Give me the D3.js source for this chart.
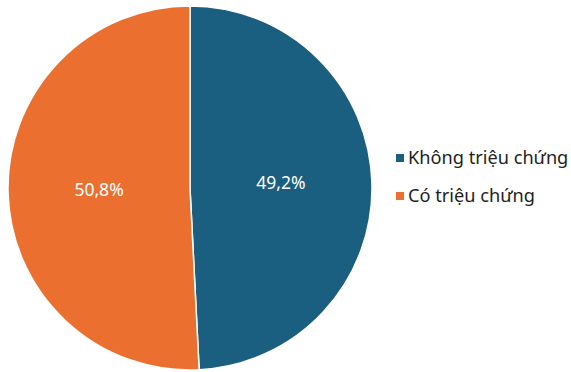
<!DOCTYPE html>
<html>
<head>
<meta charset="utf-8">
<script src="https://cdn.jsdelivr.net/npm/d3@7"></script>
<style>
  body { margin: 0; background: #fff; }
  text { font-family: "Noto Sans", "Open Sans", sans-serif; }
</style>
</head>
<body>
<div id="content"></div>
<script>
const categories = ["Không triệu chứng", "Có triệu chứng"];
const values = [49.2, 50.8];
const labels = ["49,2%", "50,8%"];
const colors = ["#1b5f80", "#eb7030"];

const W = 571, H = 372;
const cx = 190, cy = 188, R = 182;

const svg = d3.select("#content")
  .append("svg")
  .attr("width", W)
  .attr("height", H);

const pie = d3.pie().sort(null).value(d => d.v);
const arcs = pie(categories.map((c, i) => ({ c, v: values[i], l: labels[i] })));
const arc = d3.arc().innerRadius(0).outerRadius(R);

const g = svg.append("g").attr("transform", "translate(" + cx + "," + cy + ")");

g.selectAll("path").data(arcs).enter()
  .append("path")
  .attr("d", arc)
  .attr("fill", (d, i) => colors[i])
  .attr("stroke", "#fff")
  .attr("stroke-width", 1.5);

// labels sit roughly at half radius
const labelArc = d3.arc().innerRadius(R * 0.5).outerRadius(R * 0.5);
g.selectAll(".lbl").data(arcs).enter()
  .append("text")
  .attr("class", "lbl")
  .attr("x", d => labelArc.centroid(d)[0])
  .attr("y", d => labelArc.centroid(d)[1] - (d.index === 0 ? 3 : 0))
  .attr("dy", "0.35em")
  .attr("text-anchor", "middle")
  .attr("fill", "#fff")
  .attr("font-size", 17.5)
  .text(d => d.data.l);

const legend = svg.append("g").attr("transform", "translate(396,158)");
const item = legend.selectAll(".item").data(categories).enter()
  .append("g")
  .attr("transform", (d, i) => "translate(0," + i * 38 + ")");
item.append("rect")
  .attr("x", 0).attr("y", -4)
  .attr("width", 8).attr("height", 8)
  .attr("fill", (d, i) => colors[i]);
item.append("text")
  .attr("x", 12)
  .attr("y", 0)
  .attr("dy", "0.35em")
  .attr("font-size", 18.2)
  .attr("fill", "#231f20")
  .text(d => d);
</script>
</body>
</html>
